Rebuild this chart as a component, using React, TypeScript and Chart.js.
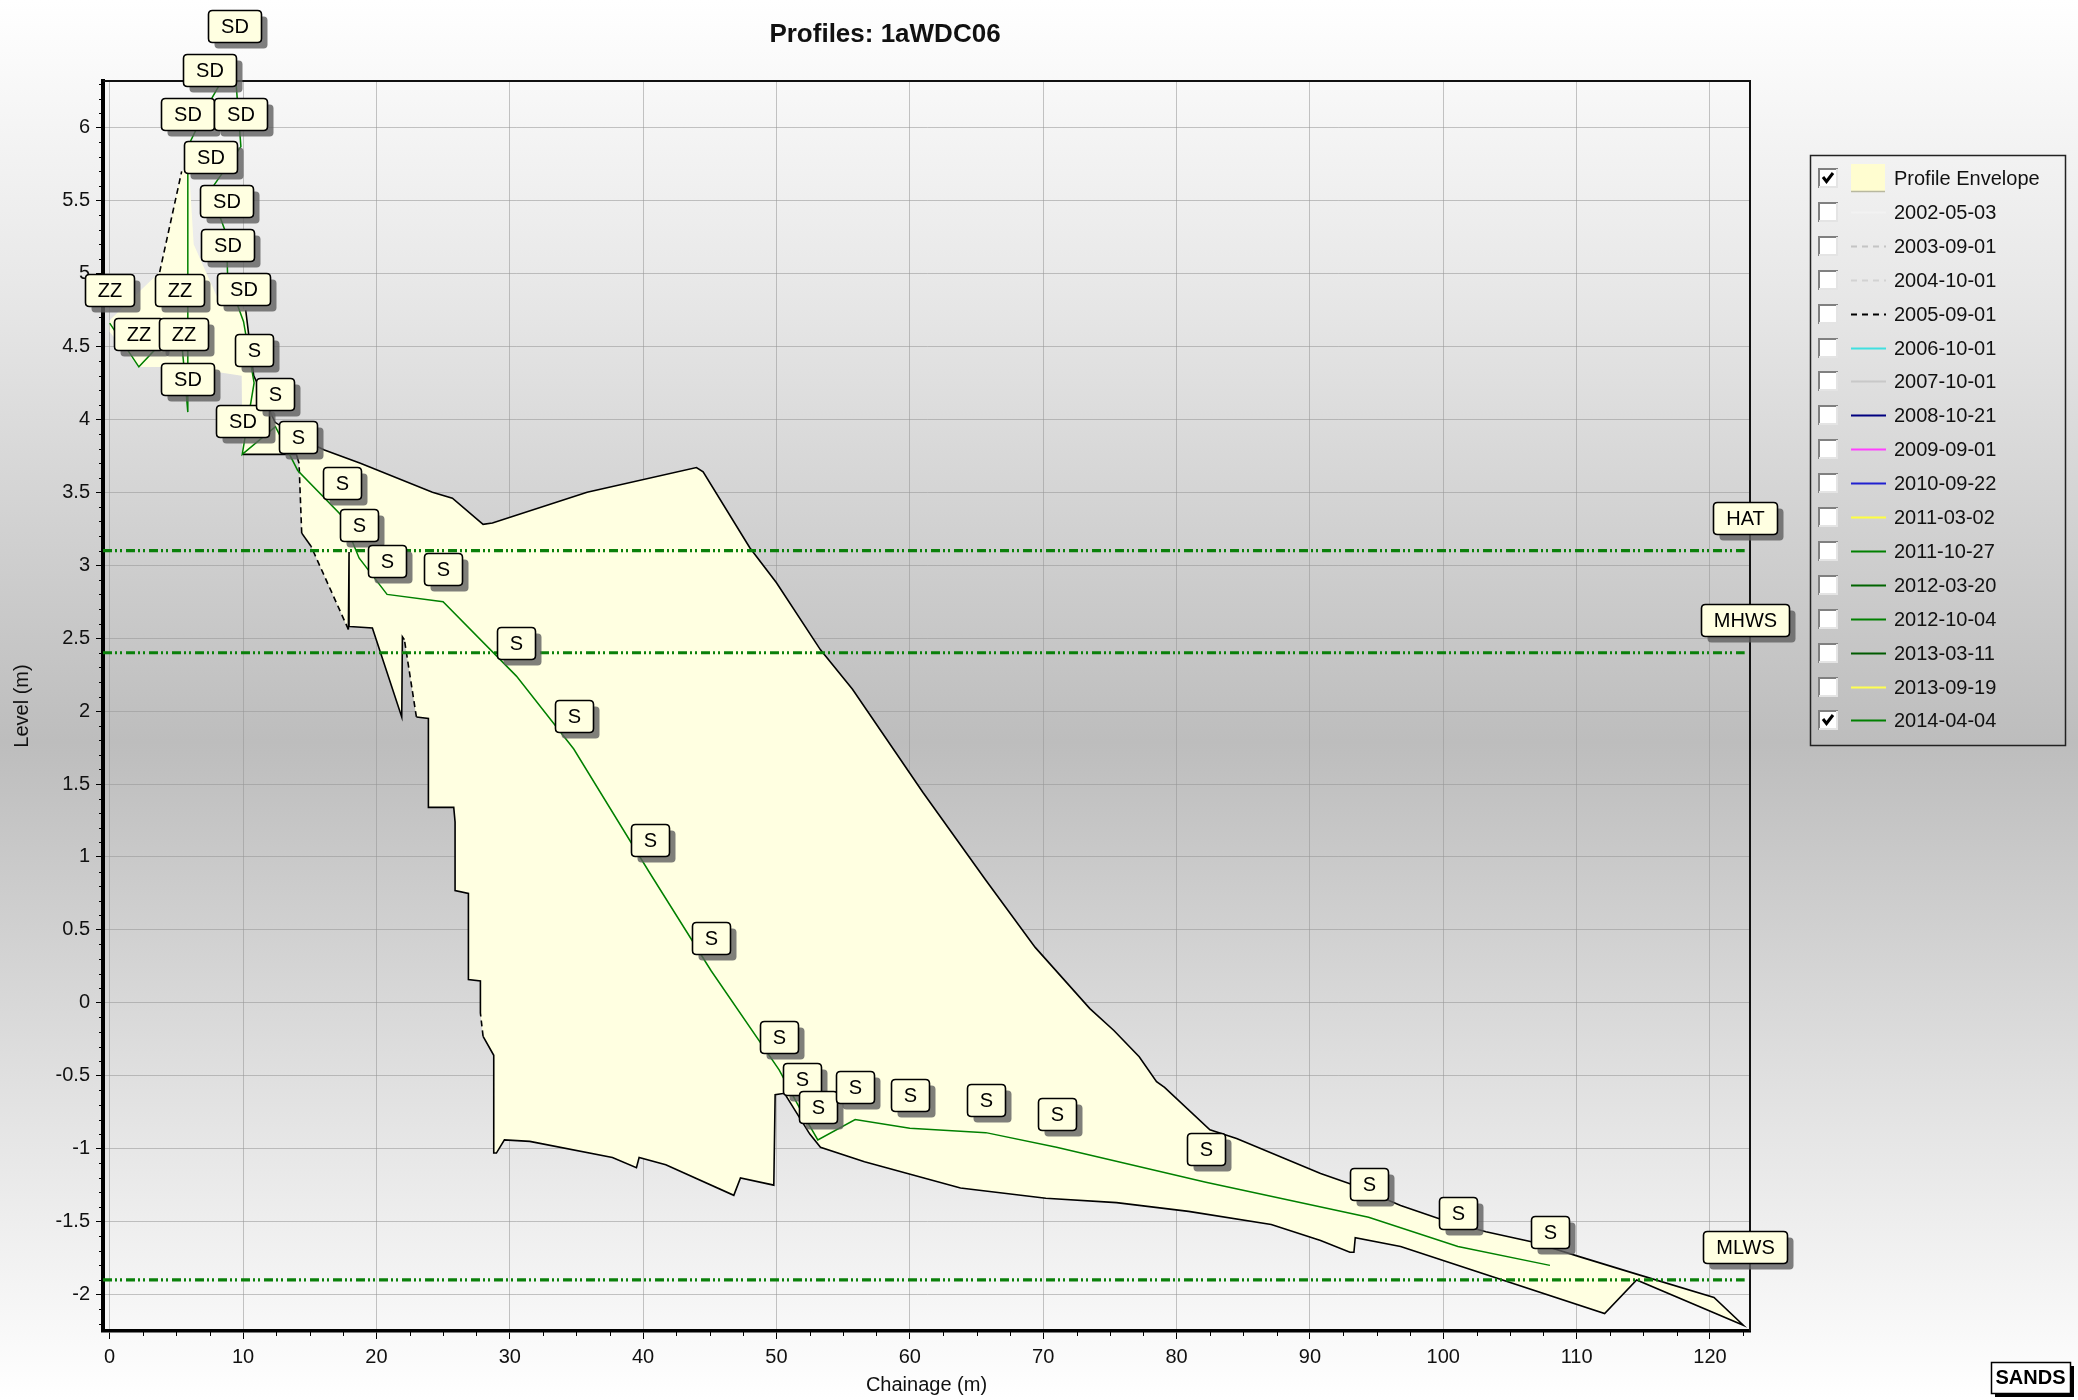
import React, { useEffect, useRef } from "react";
import { Chart, registerables } from "chart.js";

Chart.register(...registerables);

// ---------------- text ----------------
const TITLE = "Profiles: 1aWDC06";
const X_AXIS_TITLE = "Chainage (m)";
const Y_AXIS_TITLE = "Level (m)";
const BRAND = "SANDS";

// ---------------- axes ----------------
const X_MIN = -0.5;
const X_MAX = 123;
const Y_MIN = -2.25;
const Y_MAX = 6.32;
const X_STEP = 10;
const Y_STEP = 0.5;
const X_MINOR = 2.5;
const Y_MINOR = 0.1;

// ---------------- profile envelope ----------------
const ENVELOPE_UPPER_CHAINAGE = [
  0, 3.75, 5.4, 5.95, 6.3, 8.0, 10.2, 10.8, 12.4, 14.5, 16.1, 18.8, 24.2, 25.7, 28.0, 28.7, 35.8, 44.0,
  44.5, 48.0, 50.0, 53.3, 55.7, 61.0, 65.7, 69.4, 73.5, 75.3, 77.2, 78.5, 79.1, 82.5, 84.5, 90.8, 93.0,
  96.8, 99.7, 103.2, 106.7, 110.2, 114.5, 120.3, 122.5,
];
const ENVELOPE_UPPER_LEVEL = [
  4.68, 5.01, 5.7, 5.72, 5.2, 4.85, 4.75, 4.3, 3.98, 3.86, 3.79, 3.7, 3.5, 3.46, 3.28, 3.29, 3.5, 3.67,
  3.64, 3.12, 2.88, 2.42, 2.15, 1.44, 0.84, 0.38, -0.04, -0.19, -0.37, -0.54, -0.58, -0.87, -0.93, -1.17,
  -1.24, -1.39, -1.48, -1.57, -1.64, -1.74, -1.86, -2.02, -2.21,
];
const ENVELOPE_LOWER_CHAINAGE = [
  0, 2.2, 5.6, 9.9, 9.95, 14.0, 14.2, 14.4, 15.1, 17.9, 17.95, 18.0, 19.7, 21.9, 21.95, 22.1, 23.0, 23.9,
  23.9, 25.8, 25.9, 25.9, 26.9, 26.9, 27.8, 27.8, 28.0, 28.8, 28.8, 29.0, 29.6, 31.5, 37.7, 39.5, 39.7,
  41.7, 46.8, 47.3, 49.8, 49.9, 50.6, 52.5, 53.3, 56.6, 63.8, 70.2, 75.5, 80.9, 87.1, 90.8, 93.0, 93.3,
  93.4, 96.8, 112.1, 114.5, 122.5,
];
const ENVELOPE_LOWER_LEVEL = [
  4.6, 4.36, 4.36, 4.3, 3.76, 3.76, 3.7, 3.22, 3.13, 2.56, 3.09, 2.58, 2.57, 1.96, 2.51, 2.49, 1.96, 1.95,
  1.34, 1.34, 1.24, 0.77, 0.75, 0.16, 0.15, -0.07, -0.23, -0.36, -1.03, -1.03, -0.94, -0.95, -1.06, -1.13,
  -1.06, -1.11, -1.32, -1.2, -1.25, -0.63, -0.62, -0.9, -0.99, -1.09, -1.27, -1.34, -1.37, -1.43, -1.52,
  -1.63, -1.71, -1.71, -1.61, -1.67, -2.13, -1.9, -2.21,
];
// chainage spans of envelope edges drawn dashed / not outlined
const ENVELOPE_DASHED_SPANS = [
  [3.75, 5.4], [14.2, 14.4], [15.1, 17.9], [22.1, 23.0], [27.8, 28.0],
];
const ENVELOPE_HIDDEN_SPANS = [
  [0, 3.75], [5.4, 5.95], [5.95, 6.3], [6.3, 8.0], [8.0, 10.2], [0, 2.2], [2.2, 5.6], [5.6, 9.9], [9.9, 9.95],
];

// ---------------- 2014-04-04 survey ----------------
const PROFILE_CHAINAGE = [
  0.0, 2.19, 5.27, 5.57, 5.86, 5.86, 7.46, 9.34, 9.84, 7.55, 8.75, 8.85, 10.04, 10.83, 9.94, 12.43, 14.1,
  17.4, 18.7, 20.8, 25.0, 30.5, 34.8, 40.5, 45.1, 50.2, 51.9, 53.1, 55.9, 60.0, 65.7, 71.0, 82.2, 94.4,
  101.1, 108.0,
];
const PROFILE_LEVEL = [
  4.66, 4.36, 4.66, 4.36, 4.05, 5.87, 6.17, 6.47, 5.87, 5.57, 5.27, 4.97, 4.67, 4.25, 3.76, 3.95, 3.65,
  3.34, 3.05, 2.8, 2.75, 2.24, 1.74, 0.89, 0.22, -0.46, -0.75, -0.94, -0.8, -0.86, -0.89, -0.99, -1.23,
  -1.47, -1.67, -1.8,
];
const PROFILE_CODES = [
  "ZZ", "ZZ", "ZZ", "ZZ", "SD", "SD", "SD", "SD", "SD", "SD", "SD", "SD", "SD", "S", "SD", "S", "S",
  "S", "S", "S", "S", "S", "S", "S", "S", "S", "S", "S", "S", "S", "S", "S", "S", "S", "S", "S",
];

// ---------------- tide levels ----------------
const TIDE_NAMES = ["HAT", "MHWS", "MLWS"];
const TIDE_LEVELS = [3.1, 2.4, -1.9];
const TIDE_START = -0.5;
const TIDE_END = 122.6;

// ---------------- legend ----------------
const LEGEND_NAMES = [
  "Profile Envelope", "2002-05-03", "2003-09-01", "2004-10-01", "2005-09-01", "2006-10-01",
  "2007-10-01", "2008-10-21", "2009-09-01", "2010-09-22", "2011-03-02", "2011-10-27", "2012-03-20",
  "2012-10-04", "2013-03-11", "2013-09-19", "2014-04-04",
];
const LEGEND_CHECKED = [
  true, false, false, false, false, false, false, false, false, false, false, false, false, false, false,
  false, true,
];
const LEGEND_COLORS = [
  "#fffdd0", "#f2f2f2", "#c4c4c4", "#d2d2d2", "#000000", "#40e0e0", "#c8c8c8", "#000080", "#ff40ff",
  "#2020d0", "#ffff40", "#008000", "#006400", "#008000", "#005a00", "#ffff50", "#008000",
];
const LEGEND_DASHED = [
  false, false, true, true, true, false, false, false, false, false, false, false, false, false, false,
  false, false,
];

// ---------------- styles ----------------
const FONT = '"Liberation Sans", Arial, Helvetica, sans-serif';
const ENVELOPE_FILL = "#ffffe1";
const PROFILE_COLOR = "#008000";
const TIDE_COLOR = "#0a800a";
const GRID_COLOR = "rgba(150,150,150,0.55)";
const MARK_FILL = "#ffffe1";
const MARK_OFFSET = 33;

function roundRectPath(ctx: CanvasRenderingContext2D, x: number, y: number, w: number, h: number, r: number) {
  ctx.beginPath();
  ctx.moveTo(x + r, y);
  ctx.lineTo(x + w - r, y);
  ctx.quadraticCurveTo(x + w, y, x + w, y + r);
  ctx.lineTo(x + w, y + h - r);
  ctx.quadraticCurveTo(x + w, y + h, x + w - r, y + h);
  ctx.lineTo(x + r, y + h);
  ctx.quadraticCurveTo(x, y + h, x, y + h - r);
  ctx.lineTo(x, y + r);
  ctx.quadraticCurveTo(x, y, x + r, y);
  ctx.closePath();
}

function drawMark(ctx: CanvasRenderingContext2D, cx: number, cy: number, text: string) {
  ctx.save();
  ctx.font = `20px ${FONT}`;
  const tw = ctx.measureText(text).width;
  const w = Math.round(tw + 25);
  const h = 32;
  const x = Math.round(cx - w / 2) + 0.5;
  const y = Math.round(cy - h / 2) + 0.5;
  ctx.fillStyle = "rgba(95,95,95,0.8)";
  roundRectPath(ctx, x + 6, y + 6, w, h, 4);
  ctx.fill();
  ctx.fillStyle = MARK_FILL;
  roundRectPath(ctx, x, y, w, h, 4);
  ctx.fill();
  ctx.lineWidth = 1.6;
  ctx.strokeStyle = "#000";
  ctx.stroke();
  ctx.fillStyle = "#000";
  ctx.textAlign = "center";
  ctx.textBaseline = "middle";
  ctx.fillText(text, x + w / 2, y + h / 2 + 1);
  ctx.restore();
}

function inSpans(spans: number[][], a: number, b: number) {
  const lo = Math.min(a, b);
  const hi = Math.max(a, b);
  return spans.some(([s, e]) => Math.abs(lo - s) < 1e-6 && Math.abs(hi - e) < 1e-6);
}

const framePlugin = {
  id: "frameAndMinorTicks",
  beforeDatasetsDraw(chart: any) {
    const { ctx, chartArea } = chart;
    const xs = chart.scales.x;
    const ys = chart.scales.y;
    ctx.save();
    ctx.strokeStyle = "#000";
    ctx.lineWidth = 1;
    const kx0 = Math.ceil(X_MIN / X_MINOR);
    const kx1 = Math.floor(X_MAX / X_MINOR);
    for (let k = kx0; k <= kx1; k++) {
      const v = k * X_MINOR;
      if (Math.abs(v / X_STEP - Math.round(v / X_STEP)) < 1e-6) continue;
      const px = Math.round(xs.getPixelForValue(v)) + 0.5;
      ctx.beginPath();
      ctx.moveTo(px, chartArea.bottom);
      ctx.lineTo(px, chartArea.bottom + 5);
      ctx.stroke();
    }
    const ky0 = Math.ceil(Y_MIN / Y_MINOR);
    const ky1 = Math.floor(Y_MAX / Y_MINOR);
    for (let k = ky0; k <= ky1; k++) {
      if (k % 5 === 0) continue;
      const py = Math.round(ys.getPixelForValue(k * Y_MINOR)) + 0.5;
      ctx.beginPath();
      ctx.moveTo(chartArea.left - 4, py);
      ctx.lineTo(chartArea.left, py);
      ctx.stroke();
    }
    ctx.restore();
  },
  afterDatasetsDraw(chart: any) {
    const { ctx, chartArea } = chart;
    ctx.save();
    ctx.strokeStyle = "#111";
    ctx.lineWidth = 2;
    ctx.beginPath();
    ctx.moveTo(chartArea.left, chartArea.top);
    ctx.lineTo(chartArea.right, chartArea.top);
    ctx.lineTo(chartArea.right, chartArea.bottom);
    ctx.stroke();
    ctx.restore();

    chart.data.datasets.forEach((ds: any, i: number) => {
      if (!ds.markLabels) return;
      const meta = chart.getDatasetMeta(i);
      meta.data.forEach((pt: any, j: number) => {
        const label = ds.markLabels[j];
        if (!label) return;
        drawMark(ctx, pt.x, pt.y - MARK_OFFSET, label);
      });
    });
  },
  afterDraw(chart: any) {
    const { ctx } = chart;
    ctx.save();
    // title
    ctx.font = `bold 26px ${FONT}`;
    ctx.fillStyle = "#111";
    ctx.textAlign = "center";
    ctx.textBaseline = "middle";
    ctx.fillText(TITLE, 885, 35);

    // legend
    const LX = 1810.5, LY = 155.5, LW = 255, LH = 590;
    ctx.strokeStyle = "#222";
    ctx.lineWidth = 1.5;
    ctx.strokeRect(LX, LY, LW, LH);
    ctx.font = `20px ${FONT}`;
    ctx.textAlign = "left";
    LEGEND_NAMES.forEach((name, i) => {
      const cy = Math.round(LY + 22.5 + i * 33.9);
      const bx = 1818, by = cy - 10, bs = 20;
      ctx.fillStyle = "#ffffff";
      ctx.fillRect(bx, by, bs, bs);
      ctx.lineWidth = 2;
      ctx.strokeStyle = "#808080";
      ctx.beginPath();
      ctx.moveTo(bx + 1, by + bs);
      ctx.lineTo(bx + 1, by + 1);
      ctx.lineTo(bx + bs, by + 1);
      ctx.stroke();
      ctx.strokeStyle = "#e4e4e4";
      ctx.beginPath();
      ctx.moveTo(bx + bs - 1, by + 1);
      ctx.lineTo(bx + bs - 1, by + bs - 1);
      ctx.lineTo(bx + 1, by + bs - 1);
      ctx.stroke();
      if (LEGEND_CHECKED[i]) {
        ctx.strokeStyle = "#000";
        ctx.lineWidth = 3;
        ctx.beginPath();
        ctx.moveTo(bx + 5, by + 9);
        ctx.lineTo(bx + 8.5, by + 13.5);
        ctx.lineTo(bx + 15, by + 5);
        ctx.stroke();
      }
      if (i === 0) {
        ctx.fillStyle = LEGEND_COLORS[i];
        ctx.fillRect(1851, cy - 14, 34, 27);
        ctx.strokeStyle = "#b8b8a0";
        ctx.lineWidth = 1.5;
        ctx.beginPath();
        ctx.moveTo(1851, cy + 13.5);
        ctx.lineTo(1885, cy + 13.5);
        ctx.stroke();
      } else {
        ctx.strokeStyle = LEGEND_COLORS[i];
        ctx.lineWidth = 2;
        ctx.setLineDash(LEGEND_DASHED[i] ? [6, 5] : []);
        ctx.beginPath();
        ctx.moveTo(1851, cy + 0.5);
        ctx.lineTo(1886, cy + 0.5);
        ctx.stroke();
        ctx.setLineDash([]);
      }
      ctx.fillStyle = "#111";
      ctx.textBaseline = "middle";
      ctx.fillText(name, 1894, cy + 1);
    });

    // SANDS badge
    const sx = 1991, sy = 1362, sw = 79, sh = 31;
    ctx.fillStyle = "#000";
    ctx.fillRect(sx + 4, sy + 4, sw, sh);
    ctx.fillStyle = "#fff";
    ctx.fillRect(sx, sy, sw, sh);
    ctx.strokeStyle = "#000";
    ctx.lineWidth = 1.5;
    ctx.strokeRect(sx + 0.5, sy + 0.5, sw, sh);
    ctx.font = `bold 20px ${FONT}`;
    ctx.fillStyle = "#000";
    ctx.textAlign = "center";
    ctx.fillText(BRAND, sx + sw / 2, sy + sh / 2 + 1);
    ctx.restore();
  },
};

export default function App() {
  const canvasRef = useRef<HTMLCanvasElement | null>(null);

  useEffect(() => {
    const canvas = canvasRef.current;
    if (!canvas) return;

    const envelopePoints = [
      ...ENVELOPE_UPPER_CHAINAGE.map((x, i) => ({ x, y: ENVELOPE_UPPER_LEVEL[i] })),
      ...ENVELOPE_LOWER_CHAINAGE.map((x, i) => ({ x, y: ENVELOPE_LOWER_LEVEL[i] })).reverse(),
    ];
    const profilePoints = PROFILE_CHAINAGE.map((x, i) => ({ x, y: PROFILE_LEVEL[i] }));

    const segX = (c: any) => {
      const a = envelopePoints[c.p0DataIndex];
      const b = envelopePoints[c.p1DataIndex];
      return a && b ? [a.x, b.x] : [NaN, NaN];
    };

    const tideSets = TIDE_NAMES.map((name, i) => ({
      label: name,
      data: [
        { x: TIDE_START, y: TIDE_LEVELS[i] },
        { x: TIDE_END, y: TIDE_LEVELS[i] },
      ],
      markLabels: ["", name],
      borderColor: TIDE_COLOR,
      borderWidth: 3.2,
      borderDash: [9, 3, 2, 3, 2, 4],
      pointRadius: 0,
      fill: false,
      tension: 0,
    }));

    const chart = new Chart(canvas, {
      type: "line",
      data: {
        datasets: [
          {
            label: LEGEND_NAMES[16],
            data: profilePoints,
            markLabels: PROFILE_CODES,
            borderColor: PROFILE_COLOR,
            borderWidth: 1.5,
            pointRadius: 0,
            fill: false,
            tension: 0,
          } as any,
          ...(tideSets as any[]),
          {
            label: LEGEND_NAMES[0] + " outline",
            data: envelopePoints,
            borderColor: "#000",
            borderWidth: 1.6,
            pointRadius: 0,
            fill: false,
            tension: 0,
            segment: {
              borderColor: (c: any) => {
                const [a, b] = segX(c);
                return inSpans(ENVELOPE_HIDDEN_SPANS, a, b) ? "rgba(0,0,0,0)" : undefined;
              },
              borderDash: (c: any) => {
                const [a, b] = segX(c);
                return inSpans(ENVELOPE_DASHED_SPANS, a, b) ? [6, 4] : undefined;
              },
            },
          } as any,
          {
            label: LEGEND_NAMES[0],
            data: envelopePoints,
            borderWidth: 0,
            borderColor: "rgba(0,0,0,0)",
            backgroundColor: ENVELOPE_FILL,
            pointRadius: 0,
            fill: "shape",
            tension: 0,
          } as any,
        ],
      },
      options: {
        animation: false,
        responsive: false,
        devicePixelRatio: 1,
        events: [],
        layout: { padding: { left: 0, top: 81, right: 328, bottom: 0 } },
        plugins: {
          legend: { display: false },
          title: { display: false },
          tooltip: { enabled: false },
        },
        scales: {
          x: {
            type: "linear",
            min: X_MIN,
            max: X_MAX,
            afterFit: (scale: any) => {
              scale.height = 69;
            },
            ticks: {
              stepSize: X_STEP,
              includeBounds: false,
              autoSkip: false,
              maxRotation: 0,
              padding: 6,
              color: "#111",
              font: { family: FONT, size: 20 },
              callback: (v: any) => String(v),
            },
            grid: {
              color: GRID_COLOR,
              lineWidth: 1,
              tickColor: "#000",
              tickLength: 8,
            },
            border: { color: "#000", width: 3.5 },
            title: {
              display: true,
              text: X_AXIS_TITLE,
              color: "#111",
              font: { family: FONT, size: 20 },
              padding: { top: 0, bottom: 3 },
            },
          },
          y: {
            type: "linear",
            min: Y_MIN,
            max: Y_MAX,
            afterFit: (scale: any) => {
              scale.width = 103;
            },
            ticks: {
              stepSize: Y_STEP,
              includeBounds: false,
              autoSkip: false,
              padding: 6,
              color: "#111",
              font: { family: FONT, size: 20 },
              callback: (v: any) => String(v),
            },
            grid: {
              color: GRID_COLOR,
              lineWidth: 1,
              tickColor: "#000",
              tickLength: 7,
            },
            border: { color: "#000", width: 4 },
            title: {
              display: true,
              text: Y_AXIS_TITLE,
              color: "#111",
              font: { family: FONT, size: 20 },
              padding: { top: 10, bottom: 0 },
            },
          },
        },
      } as any,
      plugins: [framePlugin],
    });

    return () => {
      chart.destroy();
    };
  }, []);

  return (
    <div
      style={{
        position: "fixed",
        left: 0,
        top: 0,
        width: 2078,
        height: 1400,
        background: "linear-gradient(to bottom, #ffffff 0%, #e6e6e6 22%, #bdbdbd 53%, #e4e4e4 80%, #ffffff 100%)",
      }}
    >
      <canvas ref={canvasRef} width={2078} height={1400} style={{ display: "block", width: 2078, height: 1400 }} />
    </div>
  );
}
